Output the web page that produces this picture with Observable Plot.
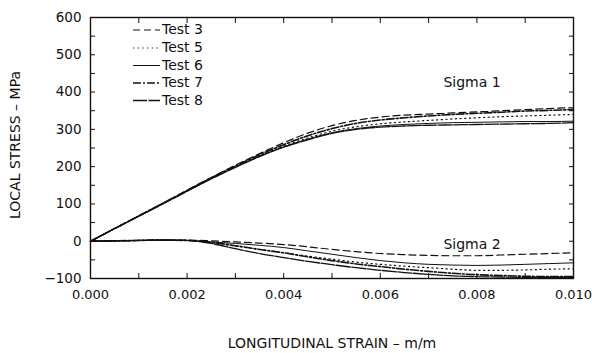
<!DOCTYPE html>
<html><head><meta charset="utf-8">
<script src="https://cdn.jsdelivr.net/npm/d3@7"></script>
<script src="https://cdn.jsdelivr.net/npm/@observablehq/plot@0.6"></script>
<style>body{margin:0;background:#fff}</style>
</head><body><div id="chart"></div>
<script>
const strain = [0,0.0005,0.001,0.0015,0.002,0.0025,0.003,0.0035,0.004,0.0045,0.005,0.0055,0.006,0.0065,0.007,0.0075,0.008,0.0085,0.009,0.0095,0.010];
const tests = ["Test 3","Test 5","Test 6","Test 7","Test 8"];

// Sigma 1 (MPa)
const sigma1Test3 = [0,34,68,102,137,171,204,235,264,290,310,324,333,338,341,344,347,350,353,356,358];
const sigma1Test5 = [0,34,68,101,135,168,200,229,255,277,295,307,315,320,324,328,331,334,336,338,340];
const sigma1Test6 = [0,34,67,101,135,168,199,228,253,274,291,302,309,313,316,318,319,320,321,321,322];
const sigma1Test7 = [0,34,68,102,136,170,202,232,259,283,302,316,325,331,336,340,343,346,349,351,353];
const sigma1Test8 = [0,34,67,100,134,167,198,227,252,272,289,300,306,309,311,312,313,314,315,316,318];

// Sigma 2 (MPa)
const sigma2Test3 = [0,1,2,3,3,1,-2,-5,-9,-15,-22,-28,-33,-36,-38,-39,-39,-37,-35,-33,-31];
const sigma2Test5 = [0,1,2,3,2,-4,-13,-22,-31,-40,-48,-56,-62,-67,-71,-75,-78,-78,-77,-75,-74];
const sigma2Test6 = [0,1,2,3,2,-2,-6,-11,-17,-26,-35,-44,-52,-58,-62,-64,-65,-64,-62,-60,-58];
const sigma2Test7 = [0,1,2,3,2,-3,-12,-22,-31,-42,-52,-61,-68,-75,-81,-86,-90,-92,-94,-95,-95];
const sigma2Test8 = [0,1,2,3,2,-6,-20,-33,-44,-54,-63,-71,-78,-84,-89,-93,-95,-96,-97,-97,-97];

const sigma1 = {"Test 3": sigma1Test3, "Test 5": sigma1Test5, "Test 6": sigma1Test6, "Test 7": sigma1Test7, "Test 8": sigma1Test8};
const sigma2 = {"Test 3": sigma2Test3, "Test 5": sigma2Test5, "Test 6": sigma2Test6, "Test 7": sigma2Test7, "Test 8": sigma2Test8};

const styles = {
  "Test 3": {dash: "7,4", width: 1.2},
  "Test 5": {dash: "1.2,3.5", width: 1.2},
  "Test 6": {dash: null, width: 1},
  "Test 7": {dash: "8,2,2,2", width: 1.6},
  "Test 8": {dash: "14,1.5", width: 1.3}
};

const rows = [];
for (const t of tests) {
  strain.forEach((s, i) => {
    rows.push({test: t, comp: "s1", x: s, y: sigma1[t][i]});
    rows.push({test: t, comp: "s2", x: s, y: sigma2[t][i]});
  });
}

const xTicks = [0,0.002,0.004,0.006,0.008,0.010];
const yTicks = [-100,0,100,200,300,400,500,600];
const xMinor = d3.range(0, 0.01001, 0.001);
const yMinor = d3.range(-100, 601, 50);
const annotations = [
  {x: 0.0079, y: 425, text: "Sigma 1"},
  {x: 0.0079, y: -8, text: "Sigma 2"}
];

const font = "DejaVu Sans, sans-serif";
const lineMarks = tests.flatMap(t => ["s1","s2"].map(c =>
  Plot.line(rows.filter(r => r.test === t && r.comp === c), {
    x: "x", y: "y", stroke: "#111", strokeWidth: styles[t].width,
    strokeDasharray: styles[t].dash, curve: "monotone-x"
  })
));

const plot = Plot.plot({
  width: 592, height: 353,
  marginLeft: 90, marginRight: 19, marginTop: 17, marginBottom: 75,
  style: {fontFamily: font, fontSize: "14px", color: "#111", background: "#fff"},
  x: {domain: [0, 0.01]},
  y: {domain: [-100, 600]},
  marks: [
    ...lineMarks,
    Plot.frame({stroke: "#111", strokeWidth: 1.4}),
    Plot.axisX({anchor: "bottom", ticks: xTicks, tickFormat: d3.format(".3f"), tickSize: 0, tickPadding: 11, label: null, fontSize: 13}),
    Plot.axisY({anchor: "left", ticks: yTicks, tickFormat: d => d < 0 ? "\u2212" + Math.abs(d) : d, tickSize: 0, tickPadding: 9, label: null, fontSize: 13.5}),
    Plot.axisX({anchor: "bottom", ticks: xMinor, tickSize: -5, text: null, label: null}),
    Plot.axisX({anchor: "top", ticks: xMinor, tickSize: -5, text: null, label: null}),
    Plot.axisY({anchor: "left", ticks: yMinor, tickSize: -5, text: null, label: null}),
    Plot.axisY({anchor: "right", ticks: yMinor, tickSize: -5, text: null, label: null}),
    Plot.text(annotations, {x: "x", y: "y", text: "text", fontSize: 14, fill: "#111"}),
    Plot.text(["LONGITUDINAL STRAIN \u2013 m/m"], {frameAnchor: "bottom", textAnchor: "middle", lineAnchor: "middle", dy: 65, fontSize: 14, fill: "#111"}),
    Plot.text(["LOCAL STRESS \u2013 MPa"], {frameAnchor: "left", textAnchor: "middle", lineAnchor: "middle", dx: -75, dy: -3, rotate: -90, fontSize: 14, fill: "#111"}),
    Plot.text(tests, {frameAnchor: "top-left", text: d => d, textAnchor: "start", fontSize: 14, fill: "#111", className: "legend-labels"})
  ]
});

document.getElementById("chart").appendChild(plot);
const svg = d3.select(plot);

// Legend: position labels in rows and add line swatches
const legendGroup = plot.querySelector(".legend-labels");
legendGroup.removeAttribute("transform");
const legendRowY = [30, 48, 65.5, 83, 100.5];
legendGroup.querySelectorAll("text").forEach((el, i) => {
  el.removeAttribute("transform");
  el.setAttribute("x", 162);
  el.setAttribute("y", legendRowY[i]);
  el.setAttribute("dy", "0.32em");
});
const lg = svg.append("g").attr("aria-label", "legend-swatches");
tests.forEach((t, i) => {
  lg.append("line")
    .attr("x1", 133).attr("x2", 160)
    .attr("y1", legendRowY[i]).attr("y2", legendRowY[i])
    .attr("stroke", "#111").attr("stroke-width", styles[t].width)
    .attr("stroke-dasharray", styles[t].dash);
});
</script>
</body></html>
